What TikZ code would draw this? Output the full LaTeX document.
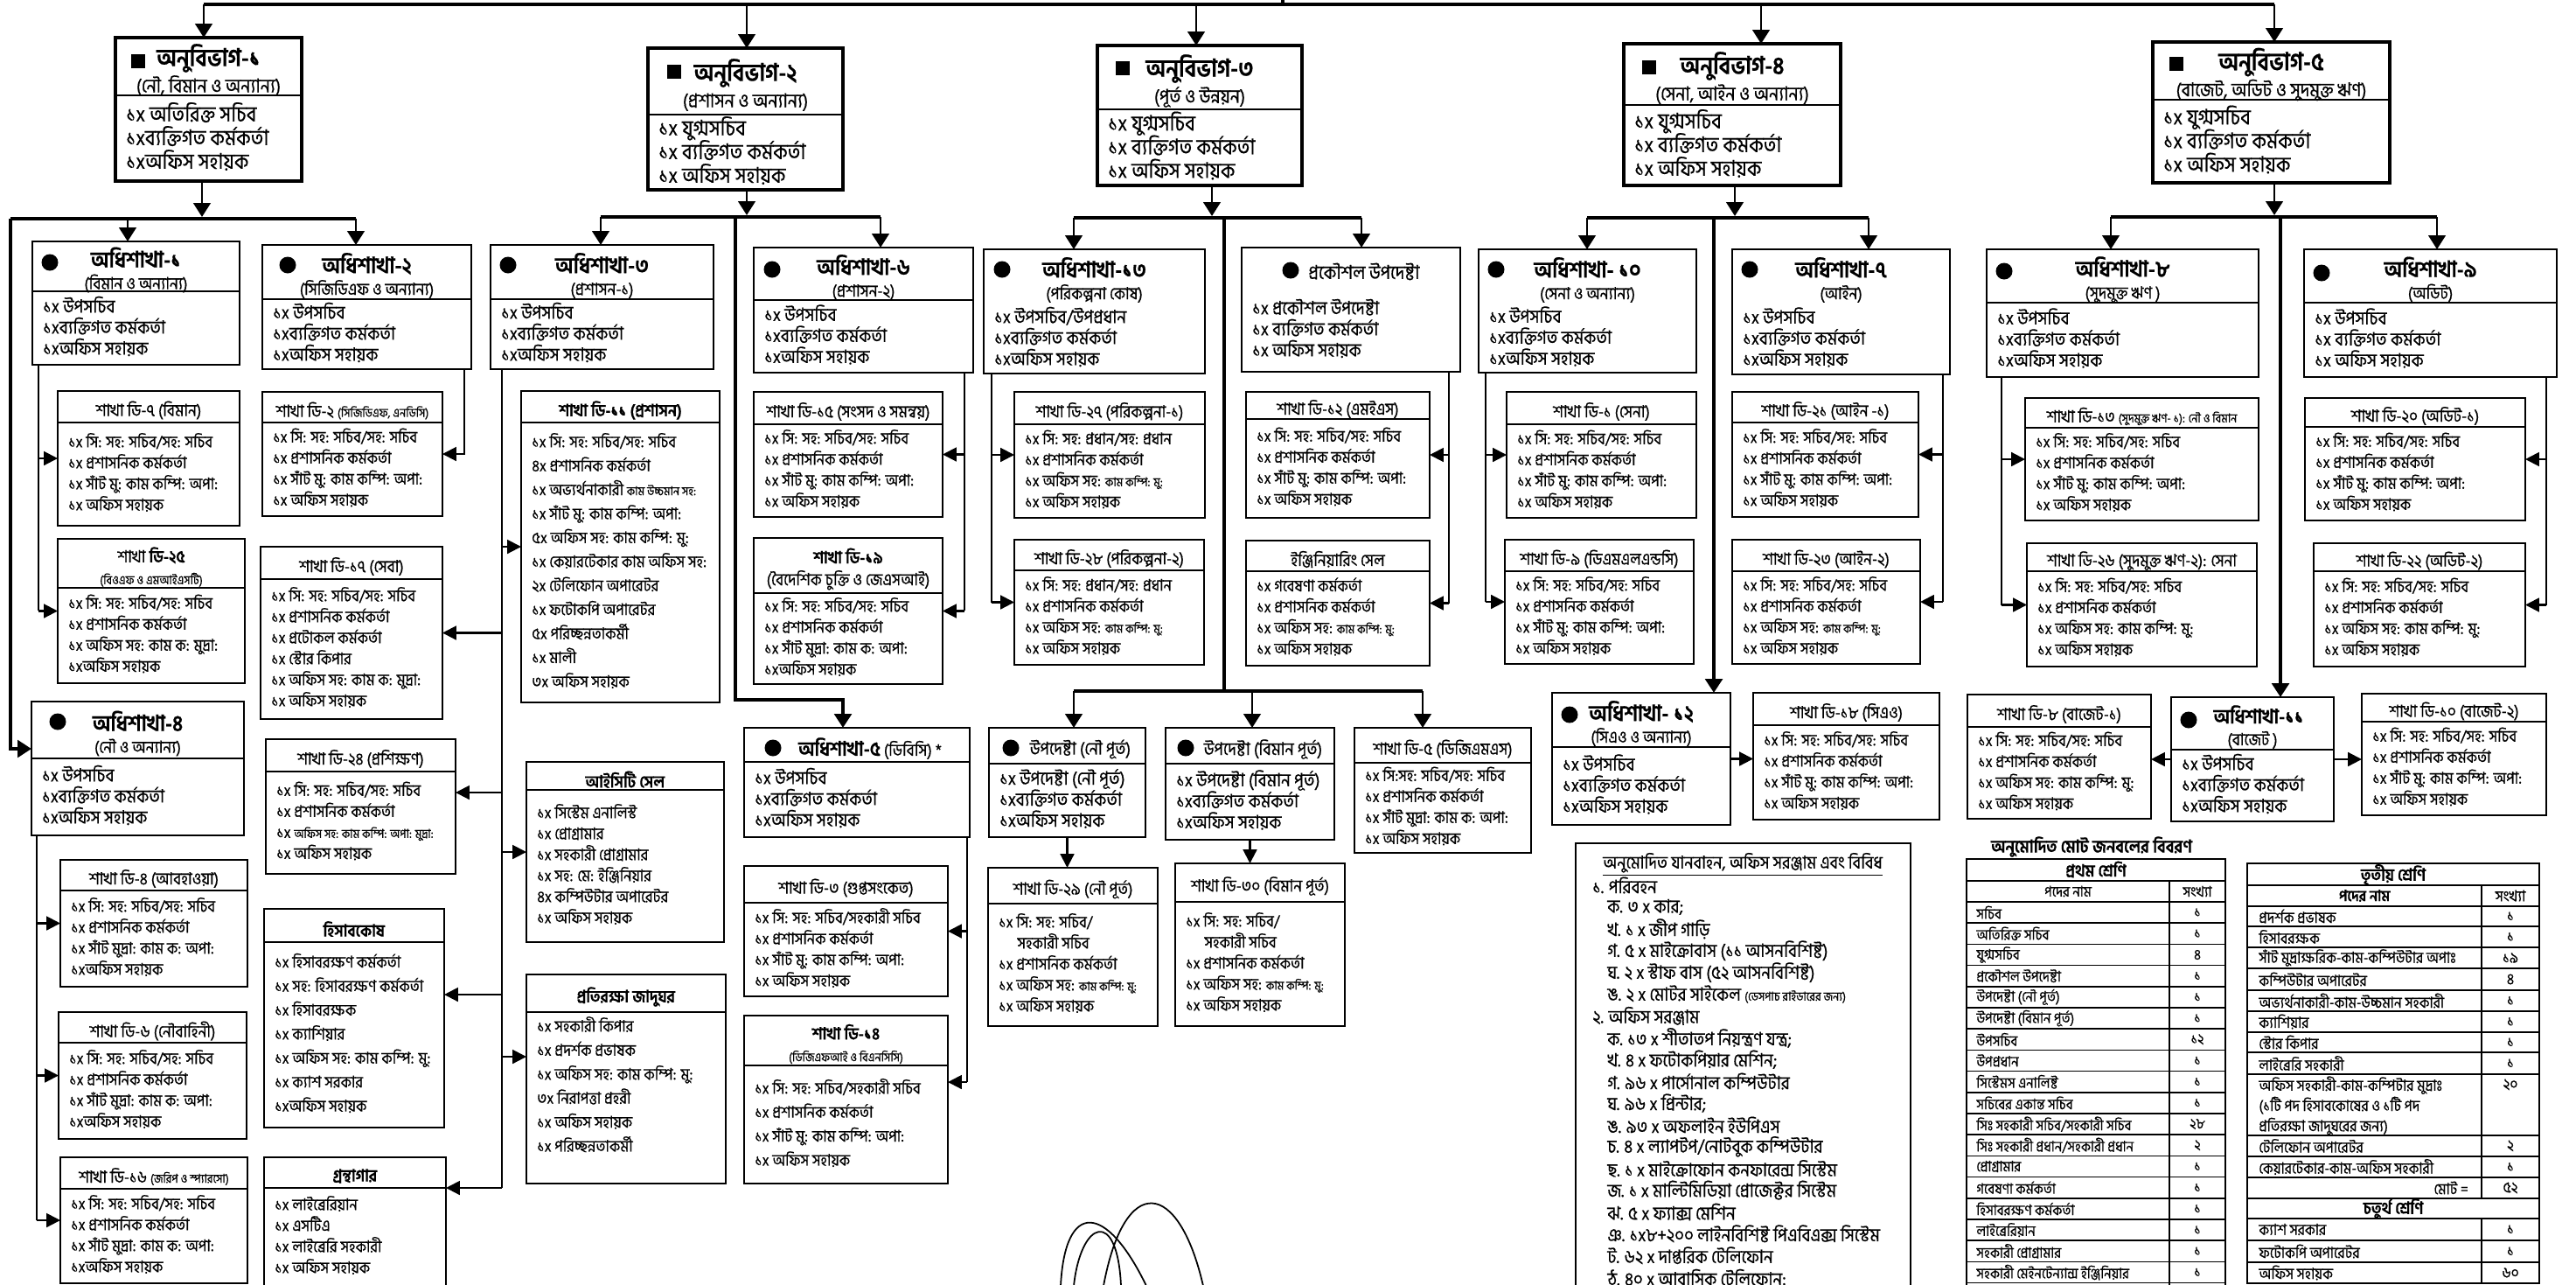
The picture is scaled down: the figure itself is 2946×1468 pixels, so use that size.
\documentclass[tikz,border=0pt]{standalone}
\usepackage{fontspec}
\setmainfont[Script=Bengali, FakeStretch=0.9, FakeBold=0.5]{Hind Siliguri}
\usetikzlibrary{arrows.meta}

\lineskiplimit=-100pt
\lineskip=0pt

\newcommand{\hd}[1]{{\fontsize{14.5}{14.2}\selectfont\bfseries #1}}
\newcommand{\hdd}[1]{{\fontsize{16}{17}\selectfont\bfseries #1}}
\newcommand{\sm}{\fontsize{8}{9}\selectfont}
\newcommand{\bshift}{\hspace*{17pt}}

\tikzstyle{box} = [rectangle, draw=black, line width=1.5pt, inner sep=0pt, outer sep=0pt]
\tikzstyle{divider} = [line width=1.5pt]
\tikzstyle{titletext} = [align=center, inner sep=0pt, font=\fontsize{11}{14.2}\selectfont]
\tikzstyle{bodytext} = [align=left, anchor=west, inner sep=0pt, font=\fontsize{10.5}{13.66}\selectfont]
\tikzstyle{loose} = [bodytext/.append style={font=\fontsize{10.5}{15.6}\selectfont}]
\tikzstyle{adh} = [bodytext/.append style={font=\fontsize{12}{13.66}\selectfont}]
\tikzstyle{anu} = [bodytext/.append style={font=\fontsize{14}{15.4}\selectfont}, titletext/.append style={font=\fontsize{12.5}{17}\selectfont}, box/.append style={line width=1.8pt}]
\tikzstyle{nodiv} = [divider/.style={draw=none}]
\tikzstyle{bar} = [line width=2.6pt]
\tikzstyle{branch} = [line width=1.1pt]
\tikzstyle{edge} = [line width=1.2pt, -{Triangle[length=9pt, width=9pt]}]
\tikzstyle{drop} = [line width=1.6pt, -{Triangle[length=9pt, width=11pt]}]
\tikzstyle{tline} = [line width=0.9pt]
\tikzstyle{cell} = [inner sep=0pt, font=\fontsize{9.5}{12}\selectfont]

% box with title part, divider and staff list
\newcommand{\orgbox}[9]{%
\begin{scope}[#7]
\node (#1) [box, minimum width={(#4-#2)*0.02cm}, minimum height={(#5-#3)*0.02cm}] at ({(#2+#4)/2},{(#3+#5)/2}) {};
\draw [divider] (#2,#6) -- (#4,#6);
\node (#1-title) [titletext] at ({(#2+#4)/2},{(#3+#6)/2+4}) {#8};
\node (#1-body) [bodytext] at ({#2+12},{(#6+#5)/2-2}) {#9};
\end{scope}}

\begin{document}
\begin{tikzpicture}[x=0.02cm, y=-0.02cm]
\useasboundingbox (0,0) rectangle (2946,1468);

% anubibhag
\orgbox{anu1}{132}{43}{345}{207}{109}{anu}{\hdd{অনুবিভাগ-১}\\(নৌ, বিমান ও অন্যান্য)}{১x অতিরিক্ত সচিব\\১xব্যক্তিগত কর্মকর্তা\\১xঅফিস সহায়ক}
\orgbox{anu2}{741}{55}{964}{217}{131}{anu}{\hdd{অনুবিভাগ-২}\\(প্রশাসন ও অন্যান্য)}{১x যুগ্মসচিব\\১x ব্যক্তিগত কর্মকর্তা\\১x অফিস সহায়ক}
\orgbox{anu3}{1255}{52}{1489}{212}{125}{anu}{\hdd{অনুবিভাগ-৩}\\(পূর্ত ও উন্নয়ন)}{১x যুগ্মসচিব\\১x ব্যক্তিগত কর্মকর্তা\\১x অফিস সহায়ক}
\orgbox{anu4}{1857}{50}{2105}{212}{120}{anu}{\hdd{অনুবিভাগ-৪}\\(সেনা, আইন ও অন্যান্য)}{১x যুগ্মসচিব\\১x ব্যক্তিগত কর্মকর্তা\\১x অফিস সহায়ক}
\orgbox{anu5}{2462}{48}{2733}{209}{114}{anu}{\hdd{অনুবিভাগ-৫}\\(বাজেট, অডিট ও সুদমুক্ত ঋণ)}{১x যুগ্মসচিব\\১x ব্যক্তিগত কর্মকর্তা\\১x অফিস সহায়ক}

% adhishakha
\orgbox{adh1}{37}{276}{274}{417}{333}{adh}{\hd{অধিশাখা-১}\\(বিমান ও অন্যান্য)}{১x উপসচিব\\১xব্যক্তিগত কর্মকর্তা\\১xঅফিস সহায়ক}
\orgbox{adh2}{300}{280}{539}{422}{342}{adh}{\hd{অধিশাখা-২}\\(সিজিডিএফ ও অন্যান্য)}{১x উপসচিব\\১xব্যক্তিগত কর্মকর্তা\\১xঅফিস সহায়ক}
\orgbox{adh3}{561}{280}{816}{422}{342}{adh}{\hd{অধিশাখা-৩}\\(প্রশাসন-১)}{১x উপসচিব\\১xব্যক্তিগত কর্মকর্তা\\১xঅফিস সহায়ক}
\orgbox{adh6}{862}{283}{1113}{426}{343}{adh}{\hd{অধিশাখা-৬}\\(প্রশাসন-২)}{১x উপসচিব\\১xব্যক্তিগত কর্মকর্তা\\১xঅফিস সহায়ক}
\orgbox{adh13}{1125}{285}{1378}{427}{347}{adh, nodiv}{\hd{অধিশাখা-১৩}\\(পরিকল্পনা কোষ)}{১x উপসচিব/উপপ্রধান\\১xব্যক্তিগত কর্মকর্তা\\১xঅফিস সহায়ক}
\orgbox{prok}{1420}{283}{1670}{425}{330}{adh, nodiv}{\bshift{\fontsize{12.5}{14}\selectfont প্রকৌশল উপদেষ্টা}}{১x প্রকৌশল উপদেষ্টা\\১x ব্যক্তিগত কর্মকর্তা\\১x অফিস সহায়ক}
\orgbox{adh10}{1691}{285}{1940}{426}{347}{adh, nodiv}{\hd{অধিশাখা- ১০}\\(সেনা ও অন্যান্য)}{১x উপসচিব\\১xব্যক্তিগত কর্মকর্তা\\১xঅফিস সহায়ক}
\orgbox{adh7}{1981}{285}{2230}{428}{347}{adh, nodiv}{\hd{অধিশাখা-৭}\\(আইন)}{১x উপসচিব\\১xব্যক্তিগত কর্মকর্তা\\১xঅফিস সহায়ক}
\orgbox{adh8}{2272}{285}{2583}{431}{346}{adh}{\hd{অধিশাখা-৮}\\(সুদমুক্ত ঋণ )}{১x উপসচিব\\১xব্যক্তিগত কর্মকর্তা\\১xঅফিস সহায়ক}
\orgbox{adh9}{2635}{285}{2924}{431}{346}{adh}{\hd{অধিশাখা-৯}\\(অডিট)}{১x উপসচিব\\১x ব্যক্তিগত কর্মকর্তা\\১x অফিস সহায়ক}
\orgbox{adh4}{36}{802}{279}{955}{867}{adh}{\hd{অধিশাখা-৪}\\(নৌ ও অন্যান্য)}{১x উপসচিব\\১xব্যক্তিগত কর্মকর্তা\\১xঅফিস সহায়ক}
\orgbox{adh5}{851}{832}{1109}{957}{871}{adh}{\bshift{\fontsize{13}{14}\selectfont\bfseries অধিশাখা-৫} {\fontsize{11}{14}\selectfont (ডিবিসি) *}}{১x উপসচিব\\১xব্যক্তিগত কর্মকর্তা\\১xঅফিস সহায়ক}
\orgbox{upnou}{1131}{832}{1310}{957}{873}{adh}{\bshift{\fontsize{11.5}{14}\selectfont উপদেষ্টা (নৌ পূর্ত)}}{১x উপদেষ্টা (নৌ পূর্ত)\\১xব্যক্তিগত কর্মকর্তা\\১xঅফিস সহায়ক}
\orgbox{upbim}{1333}{832}{1526}{960}{873}{adh}{\bshift{\fontsize{11.5}{14}\selectfont উপদেষ্টা (বিমান পূর্ত)}}{১x উপদেষ্টা (বিমান পূর্ত)\\১xব্যক্তিগত কর্মকর্তা\\১xঅফিস সহায়ক}
\orgbox{adh12}{1775}{792}{1979}{943}{854}{adh}{\hd{অধিশাখা- ১২}\\(সিএও ও অন্যান্য)}{১x উপসচিব\\১xব্যক্তিগত কর্মকর্তা\\১xঅফিস সহায়ক}
\orgbox{adh11}{2483}{797}{2669}{939}{857}{adh}{\hspace*{8pt}{\fontsize{13}{14.2}\selectfont\bfseries অধিশাখা-১১}\\(বাজেট )}{১x উপসচিব\\১xব্যক্তিগত কর্মকর্তা\\১xঅফিস সহায়ক}

% shakha, column 1
\orgbox{d7}{66}{447}{274}{601}{483}{}{শাখা ডি-৭ (বিমান)}{১x সি: সহ: সচিব/সহ: সচিব\\১x প্রশাসনিক কর্মকর্তা\\১x সাঁট মু: কাম কম্পি: অপা:\\১x অফিস সহায়ক}
\orgbox{d25}{66}{616}{280}{781}{672}{}{শাখা \textbf{ডি-২৫}\\{\sm (বিওএফ ও এমআইএসটি)}}{১x সি: সহ: সচিব/সহ: সচিব\\১x প্রশাসনিক কর্মকর্তা\\১x অফিস সহ: কাম ক: মুদ্রা:\\১xঅফিস সহায়ক}
\orgbox{d4}{69}{983}{283}{1128}{1018}{}{শাখা ডি-৪ (আবহাওয়া)}{১x সি: সহ: সচিব/সহ: সচিব\\১x প্রশাসনিক কর্মকর্তা\\১x সাঁট মুদ্রা: কাম ক: অপা:\\১xঅফিস সহায়ক}
\orgbox{d6}{67}{1157}{282}{1302}{1192}{}{শাখা ডি-৬ (নৌবাহিনী)}{১x সি: সহ: সচিব/সহ: সচিব\\১x প্রশাসনিক কর্মকর্তা\\১x সাঁট মুদ্রা: কাম ক: অপা:\\১xঅফিস সহায়ক}
\orgbox{d16}{69}{1323}{283}{1467}{1359}{}{শাখা ডি-১৬ {\sm (জরিপ ও স্প্যারসো)}}{১x সি: সহ: সচিব/সহ: সচিব\\১x প্রশাসনিক কর্মকর্তা\\১x সাঁট মুদ্রা: কাম ক: অপা:\\১xঅফিস সহায়ক}

% shakha, column 2
\orgbox{d2}{300}{448}{506}{590}{483}{}{শাখা ডি-২ {\sm (সিজিডিএফ, এনডিসি)}}{১x সি: সহ: সচিব/সহ: সচিব\\১x প্রশাসনিক কর্মকর্তা\\১x সাঁট মু: কাম কম্পি: অপা:\\১x অফিস সহায়ক}
\orgbox{d17}{298}{625}{506}{822}{662}{}{শাখা ডি-১৭ (সেবা)}{১x সি: সহ: সচিব/সহ: সচিব\\১x প্রশাসনিক কর্মকর্তা\\১x প্রটোকল কর্মকর্তা\\১x স্টোর কিপার\\১x অফিস সহ: কাম ক: মুদ্রা:\\১x অফিস সহায়ক}
\orgbox{d24}{304}{845}{521}{999}{882}{}{শাখা ডি-২৪ (প্রশিক্ষণ)}{১x সি: সহ: সচিব/সহ: সচিব\\১x প্রশাসনিক কর্মকর্তা\\১x {\sm অফিস সহ: কাম কম্পি: অপা: মুদ্রা:}\\১x অফিস সহায়ক}
\orgbox{hisab}{302}{1039}{508}{1289}{1077}{loose}{\textbf{হিসাবকোষ}}{১x হিসাবরক্ষণ কর্মকর্তা\\১x সহ: হিসাবরক্ষণ কর্মকর্তা\\১x হিসাবরক্ষক\\১x ক্যাশিয়ার\\১x অফিস সহ: কাম কম্পি: মু:\\১x ক্যাশ সরকার\\১xঅফিস সহায়ক}
\orgbox{grantha}{302}{1323}{510}{1470}{1358}{}{\textbf{গ্রন্থাগার}}{১x লাইব্রেরিয়ান\\১x এসটিএ\\১x লাইব্রেরি সহকারী\\১x অফিস সহায়ক}

% shakha, column 3
\orgbox{d11}{596}{447}{823}{803}{483}{loose}{\textbf{শাখা ডি-১১ (প্রশাসন)}}{১x সি: সহ: সচিব/সহ: সচিব\\৪x প্রশাসনিক কর্মকর্তা\\১x অভ্যর্থনাকারী {\sm কাম উচ্চমান সহ:}\\১x সাঁট মু: কাম কম্পি: অপা:\\৫x অফিস সহ: কাম কম্পি: মু:\\১x কেয়ারটেকার কাম অফিস সহ:\\২x টেলিফোন অপারেটর\\১x ফটোকপি অপারেটর\\৫x পরিচ্ছন্নতাকর্মী\\১x মালী\\৩x অফিস সহায়ক}
\orgbox{ict}{602}{871}{828}{1077}{903}{}{\textbf{আইসিটি সেল}}{১x সিস্টেম এনালিস্ট\\১x প্রোগ্রামার\\১x সহকারী প্রোগ্রামার\\১x সহ: মে: ইঞ্জিনিয়ার\\৪x কম্পিউটার অপারেটর\\১x অফিস সহায়ক}
\orgbox{jadu}{602}{1114}{830}{1353}{1157}{loose}{\textbf{প্রতিরক্ষা জাদুঘর}}{১x সহকারী কিপার\\১x প্রদর্শক প্রভাষক\\১x অফিস সহ: কাম কম্পি: মু:\\৩x নিরাপত্তা প্রহরী\\১x অফিস সহায়ক\\১x পরিচ্ছন্নতাকর্মী\\\mbox{}}

% shakha, column 4
\orgbox{d15}{862}{448}{1078}{591}{485}{}{শাখা ডি-১৫ (সংসদ ও সমন্বয়)}{১x সি: সহ: সচিব/সহ: সচিব\\১x প্রশাসনিক কর্মকর্তা\\১x সাঁট মু: কাম কম্পি: অপা:\\১x অফিস সহায়ক}
\orgbox{d19}{862}{615}{1078}{782}{678}{}{\textbf{শাখা ডি-১৯}\\(বৈদেশিক চুক্তি ও জেএসআই)}{১x সি: সহ: সচিব/সহ: সচিব\\১x প্রশাসনিক কর্মকর্তা\\১x সাঁট মুদ্রা: কাম ক: অপা:\\১xঅফিস সহায়ক}
\orgbox{d3}{851}{990}{1084}{1139}{1032}{}{শাখা ডি-৩ (গুপ্তসংকেত)}{১x সি: সহ: সচিব/সহকারী সচিব\\১x প্রশাসনিক কর্মকর্তা\\১x সাঁট মু: কাম কম্পি: অপা:\\১x অফিস সহায়ক}
\orgbox{d14}{851}{1161}{1084}{1353}{1218}{loose}{\textbf{শাখা ডি-১৪}\\{\sm (ডিজিএফআই ও বিএনসিসি)}}{১x সি: সহ: সচিব/সহকারী সচিব\\১x প্রশাসনিক কর্মকর্তা\\১x সাঁট মু: কাম কম্পি: অপা:\\১x অফিস সহায়ক}

% shakha, column 5
\orgbox{d27}{1160}{448}{1378}{592}{485}{}{শাখা ডি-২৭ (পরিকল্পনা-১)}{১x সি: সহ: প্রধান/সহ: প্রধান\\১x প্রশাসনিক কর্মকর্তা\\১x অফিস সহ: {\sm কাম কম্পি: মু:}\\১x অফিস সহায়ক}
\orgbox{d28}{1160}{617}{1377}{760}{652}{}{শাখা ডি-২৮ (পরিকল্পনা-২)}{১x সি: সহ: প্রধান/সহ: প্রধান\\১x প্রশাসনিক কর্মকর্তা\\১x অফিস সহ: {\sm কাম কম্পি: মু:}\\১x অফিস সহায়ক}
\orgbox{d29}{1130}{992}{1324}{1173}{1033}{}{শাখা ডি-২৯ (নৌ পূর্ত)}{১x সি: সহ: সচিব/\\\hspace*{12pt}সহকারী সচিব\\১x প্রশাসনিক কর্মকর্তা\\১x অফিস সহ: {\sm কাম কম্পি: মু:}\\১x অফিস সহায়ক}
\orgbox{d30}{1344}{987}{1538}{1173}{1031}{}{শাখা ডি-৩০ (বিমান পূর্ত)}{১x সি: সহ: সচিব/\\\hspace*{12pt}সহকারী সচিব\\১x প্রশাসনিক কর্মকর্তা\\১x অফিস সহ: {\sm কাম কম্পি: মু:}\\১x অফিস সহায়ক}

% shakha, column 6
\orgbox{d12}{1425}{448}{1635}{592}{479}{}{শাখা ডি-১২ (এমইএস)}{১x সি: সহ: সচিব/সহ: সচিব\\১x প্রশাসনিক কর্মকর্তা\\১x সাঁট মু: কাম কম্পি: অপা:\\১x অফিস সহায়ক}
\orgbox{engcell}{1425}{618}{1635}{761}{653}{}{ইঞ্জিনিয়ারিং সেল}{১x গবেষণা কর্মকর্তা\\১x প্রশাসনিক কর্মকর্তা\\১x অফিস সহ: {\sm কাম কম্পি: মু:}\\১x অফিস সহায়ক}
\orgbox{d5}{1549}{832}{1751}{975}{872}{}{শাখা ডি-৫ (ডিজিএমএস)}{১x সি:সহ: সচিব/সহ: সচিব\\১x প্রশাসনিক কর্মকর্তা\\১x সাঁট মুদ্রা: কাম ক: অপা:\\১x অফিস সহায়ক}

% shakha, column 7 and 8
\orgbox{d1}{1723}{448}{1940}{592}{485}{}{শাখা ডি-১ (সেনা)}{১x সি: সহ: সচিব/সহ: সচিব\\১x প্রশাসনিক কর্মকর্তা\\১x সাঁট মু: কাম কম্পি: অপা:\\১x অফিস সহায়ক}
\orgbox{d9}{1721}{617}{1937}{759}{653}{}{শাখা ডি-৯ (ডিএমএলএন্ডসি)}{১x সি: সহ: সচিব/সহ: সচিব\\১x প্রশাসনিক কর্মকর্তা\\১x সাঁট মু: কাম কম্পি: অপা:\\১x অফিস সহায়ক}
\orgbox{d21}{1981}{448}{2194}{591}{483}{}{শাখা ডি-২১ (আইন -১)}{১x সি: সহ: সচিব/সহ: সচিব\\১x প্রশাসনিক কর্মকর্তা\\১x সাঁট মু: কাম কম্পি: অপা:\\১x অফিস সহায়ক}
\orgbox{d23}{1981}{617}{2196}{759}{653}{}{শাখা ডি-২৩ (আইন-২)}{১x সি: সহ: সচিব/সহ: সচিব\\১x প্রশাসনিক কর্মকর্তা\\১x অফিস সহ: {\sm কাম কম্পি: মু:}\\১x অফিস সহায়ক}
\orgbox{d18}{2005}{792}{2218}{937}{829}{}{শাখা ডি-১৮ (সিএও)}{১x সি: সহ: সচিব/সহ: সচিব\\১x প্রশাসনিক কর্মকর্তা\\১x সাঁট মু: কাম কম্পি: অপা:\\১x অফিস সহায়ক}

% shakha, column 9 and 10
\orgbox{d13}{2316}{455}{2583}{595}{489}{}{শাখা ডি-১৩ {\sm (সুদমুক্ত ঋণ- ১): নৌ ও বিমান}}{১x সি: সহ: সচিব/সহ: সচিব\\১x প্রশাসনিক কর্মকর্তা\\১x সাঁট মু: কাম কম্পি: অপা:\\১x অফিস সহায়ক}
\orgbox{d26}{2318}{621}{2581}{762}{653}{}{শাখা ডি-২৬ (সুদমুক্ত ঋণ-২): সেনা}{১x সি: সহ: সচিব/সহ: সচিব\\১x প্রশাসনিক কর্মকর্তা\\১x অফিস সহ: কাম কম্পি: মু:\\১x অফিস সহায়ক}
\orgbox{d20}{2636}{455}{2888}{595}{488}{}{শাখা ডি-২০ (অডিট-১)}{১x সি: সহ: সচিব/সহ: সচিব\\১x প্রশাসনিক কর্মকর্তা\\১x সাঁট মু: কাম কম্পি: অপা:\\১x অফিস সহায়ক}
\orgbox{d22}{2646}{621}{2888}{762}{653}{}{শাখা ডি-২২ (অডিট-২)}{১x সি: সহ: সচিব/সহ: সচিব\\১x প্রশাসনিক কর্মকর্তা\\১x অফিস সহ: কাম কম্পি: মু:\\১x অফিস সহায়ক}
\orgbox{d8}{2250}{794}{2460}{936}{831}{}{শাখা ডি-৮ (বাজেট-১)}{১x সি: সহ: সচিব/সহ: সচিব\\১x প্রশাসনিক কর্মকর্তা\\১x অফিস সহ: কাম কম্পি: মু:\\১x অফিস সহায়ক}
\orgbox{d10}{2701}{793}{2912}{932}{825}{}{শাখা ডি-১০ (বাজেট-২)}{১x সি: সহ: সচিব/সহ: সচিব\\১x প্রশাসনিক কর্মকর্তা\\১x সাঁট মু: কাম কম্পি: অপা:\\১x অফিস সহায়ক}

% bullets
\foreach \x/\y in {158/70, 771/82, 1284/78, 1886/77, 2489/73}
  \fill (\x-8,\y-8) rectangle (\x+8,\y+8);
\foreach \x/\y in {57/300, 329/303, 581/303, 883/308, 1146/308, 1476/309, 1711/308, 2001/308, 2292/310, 2655/312, 66/825, 884/855, 1156/855, 1356/855, 1795/817, 2503/823}
  \fill (\x,\y) circle (9.5);

% top level
\coordinate (root) at (1467,0);
\coordinate (topL) at (233,5);
\coordinate (topR) at (2601,5);
\draw [bar] (root) -- (root |- topL);
\draw [bar] (topL) -- (topR);
\foreach \x/\n in {233/anu1, 854/anu2, 1368/anu3, 2014/anu4, 2601/anu5}
  {\coordinate (t-\n) at (\x,5); \draw [drop] (t-\n) -- (t-\n |- \n.north);}

% anubibhag-1
\coordinate (b1L) at (12,250);
\coordinate (b1R) at (407,250);
\coordinate (b1m) at (231,248);
\coordinate (a4in) at (12,856);
\draw [drop] (b1m |- anu1.south) -- (b1m);
\draw [bar] (b1L) -- (b1R);
\foreach \x/\n in {146/adh1, 407/adh2}
  {\coordinate (d-\n) at (\x,250); \draw [drop] (d-\n) -- (d-\n |- \n.north);}
\draw [bar, -{Triangle[length=9pt, width=11pt]}] (b1L) -- (a4in) -- (a4in -| adh4.west);

% anubibhag-2
\coordinate (b2L) at (687,248);
\coordinate (b2R) at (1007,248);
\coordinate (b2m) at (854,246);
\coordinate (b2s) at (841,248);
\coordinate (a5in) at (964,800);
\draw [drop] (b2m |- anu2.south) -- (b2m);
\draw [bar] (b2L) -- (b2R);
\foreach \x/\n in {687/adh3, 1007/adh6}
  {\coordinate (d-\n) at (\x,248); \draw [drop] (d-\n) -- (d-\n |- \n.north);}
\draw [bar, -{Triangle[length=9pt, width=11pt]}] (b2s) |- (a5in) -- (a5in |- adh5.north);

% anubibhag-3
\coordinate (b3L) at (1228,249);
\coordinate (b3R) at (1557,249);
\coordinate (b3m) at (1386,247);
\coordinate (b3s) at (1400,249);
\coordinate (b3u) at (1400,790);
\coordinate (u3L) at (1228,790);
\coordinate (u3R) at (1627,790);
\draw [drop] (b3m |- anu3.south) -- (b3m);
\draw [bar] (b3L) -- (b3R);
\foreach \x/\n in {1228/adh13, 1557/prok}
  {\coordinate (d-\n) at (\x,249); \draw [drop] (d-\n) -- (d-\n |- \n.north);}
\draw [bar] (b3s) -- (b3u);
\draw [bar] (u3L) -- (u3R);
\foreach \x/\n in {1228/upnou, 1432/upbim, 1627/d5}
  {\coordinate (d-\n) at (\x,790); \draw [drop] (d-\n) -- (d-\n |- \n.north);}

% anubibhag-4
\coordinate (b4L) at (1815,249);
\coordinate (b4R) at (2137,249);
\coordinate (b4m) at (1984,247);
\coordinate (b4s) at (1960,249);
\draw [drop] (b4m |- anu4.south) -- (b4m);
\draw [bar] (b4L) -- (b4R);
\foreach \x/\n in {1815/adh10, 2137/adh7}
  {\coordinate (d-\n) at (\x,249); \draw [drop] (d-\n) -- (d-\n |- \n.north);}
\draw [bar, -{Triangle[length=9pt, width=11pt]}] (b4s) -- (b4s |- adh12.north);

% anubibhag-5
\coordinate (b5L) at (2414,248);
\coordinate (b5R) at (2787,248);
\coordinate (b5m) at (2601,246);
\coordinate (b5s) at (2608,248);
\draw [drop] (b5m |- anu5.south) -- (b5m);
\draw [bar] (b5L) -- (b5R);
\foreach \x/\n in {2414/adh8, 2787/adh9}
  {\coordinate (d-\n) at (\x,248); \draw [drop] (d-\n) -- (d-\n |- \n.north);}
\draw [bar, -{Triangle[length=9pt, width=11pt]}] (b5s) -- (b5s |- adh11.north);

% adhishakha to shakha
\coordinate (v1) at (44,698);
\draw [branch] (v1 |- adh1.south) -- (v1);
\foreach \n in {d7, d25} \draw [edge] (v1 |- \n.west) -- (\n.west);
\coordinate (v4) at (42,1395);
\draw [branch] (v4 |- adh4.south) -- (v4);
\foreach \n in {d4, d6, d16} \draw [edge] (v4 |- \n.west) -- (\n.west);
\coordinate (v2) at (531,519);
\draw [edge] (v2 |- adh2.south) |- (d2.east);
\coordinate (v3) at (574,1358);
\coordinate (v3a) at (574,906);
\coordinate (v3b) at (574,1137);
\coordinate (v3c) at (574,1208);
\draw [branch] (v3 |- adh3.south) -- (v3);
\draw [edge] (v3 |- d17.east) -- (d17.east);
\draw [edge] (v3a) -- (v3a -| d24.east);
\draw [edge] (v3b) -- (v3b -| hisab.east);
\draw [edge] (v3) -- (v3 -| grantha.east);
\draw [edge] (v3 |- d11.west) -- (d11.west);
\draw [edge] (v3 |- ict.west) -- (ict.west);
\draw [edge] (v3c) -- (v3c -| jadu.west);
\coordinate (v6) at (1103,698);
\draw [branch] (v6 |- adh6.south) -- (v6);
\foreach \n in {d15, d19} \draw [edge] (v6 |- \n.east) -- (\n.east);
\coordinate (v5) at (1106,1237);
\draw [branch] (v5 |- adh5.south) -- (v5);
\draw [edge] (v5 |- d3.east) -- (d3.east);
\draw [edge] (v5) -- (v5 -| d14.east);
\coordinate (v13) at (1134,689);
\draw [branch] (v13 |- adh13.south) -- (v13);
\foreach \n in {d27, d28} \draw [edge] (v13 |- \n.west) -- (\n.west);
\coordinate (vp) at (1657,690);
\draw [branch] (vp |- prok.south) -- (vp);
\foreach \n in {d12, engcell} \draw [edge] (vp |- \n.east) -- (\n.east);
\draw [edge] (upnou.south) -- (upnou.south |- d29.north);
\draw [edge] (upbim.south) -- (upbim.south |- d30.north);
\coordinate (v10) at (1699,688);
\draw [branch] (v10 |- adh10.south) -- (v10);
\foreach \n in {d1, d9} \draw [edge] (v10 |- \n.west) -- (\n.west);
\coordinate (v7) at (2222,688);
\draw [branch] (v7 |- adh7.south) -- (v7);
\foreach \n in {d21, d23} \draw [edge] (v7 |- \n.east) -- (\n.east);
\draw [edge] (adh12.east) -- (adh12.east -| d18.west);
\coordinate (v8) at (2289,692);
\draw [branch] (v8 |- adh8.south) -- (v8);
\foreach \n in {d13, d26} \draw [edge] (v8 |- \n.west) -- (\n.west);
\coordinate (v9) at (2912,692);
\draw [branch] (v9 |- adh9.south) -- (v9);
\foreach \n in {d20, d22} \draw [edge] (v9 |- \n.east) -- (\n.east);
\draw [edge] (adh11.west) -- (adh11.west -| d8.east);
\draw [edge] (adh11.east) -- (adh11.east -| d10.west);

% vehicles and equipment
\node (yan) [box, anchor=north west, minimum width={383*0.02cm}, minimum height={520*0.02cm}] at (1802,964) {};
\node (yan-title) [cell, font=\fontsize{11.5}{12}\selectfont] at (1993,988) {\underline{অনুমোদিত যানবাহন, অফিস সরঞ্জাম এবং বিবিধ}};
\foreach \ind/\txt [count=\k] in {0/{১. পরিবহন}, 1/{ক. ৩ x কার;}, 1/{খ. ১ x জীপ গাড়ি}, 1/{গ. ৫ x মাইক্রোবাস (১১ আসনবিশিষ্ট)}, 1/{ঘ. ২ x স্টাফ বাস (৫২ আসনবিশিষ্ট)}, 1/{ঙ. ২ x মোটর সাইকেল {\sm (ডেসপাচ রাইডারের জন্য)}}, 0/{২. অফিস সরঞ্জাম}, 1/{ক. ১৩ x শীতাতপ নিয়ন্ত্রণ যন্ত্র;}, 1/{খ. ৪ x ফটোকপিয়ার মেশিন;}, 1/{গ. ৯৬ x পার্সোনাল কম্পিউটার}, 1/{ঘ. ৯৬ x প্রিন্টার;}, 1/{ঙ. ৯৩ x অফলাইন ইউপিএস}, 1/{চ. ৪ x ল্যাপটপ/নোটবুক কম্পিউটার}, 1/{ছ. ১ x মাইক্রোফোন কনফারেন্স সিস্টেম}, 1/{জ. ১ x মাল্টিমিডিয়া প্রোজেক্টর সিস্টেম}, 1/{ঝ. ৫ x ফ্যাক্স মেশিন}, 1/{ঞ. ১x৮+২০০ লাইনবিশিষ্ট পিএবিএক্স সিস্টেম}, 1/{ট. ৬২ x দাপ্তরিক টেলিফোন}, 1/{ঠ. ৪০ x আবাসিক টেলিফোন:}}
  \node (yan-\k) [cell, anchor=west, font=\fontsize{12}{13}\selectfont] at ({1821+17*\ind},{1012+24.9*(\k-1)}) {\txt};

% staff tables
\node (jon-title) [cell, font=\fontsize{11.5}{12}\selectfont\bfseries] at (2392,968) {অনুমোদিত মোট জনবলের বিবরণ};
\draw [tline] (2249,982) rectangle (2545,1475);
\draw [tline] (2249,1007) -- (2545,1007);
\draw [tline] (2481,1007) -- (2481,1475);
\node (t1-title) [cell, font=\fontsize{11}{12}\selectfont\bfseries] at (2397,994) {প্রথম শ্রেণি};
\node (t1-head) [cell] at (2365,1019) {পদের নাম};
\node (t1-num) [cell] at (2513,1019) {সংখ্যা};
\draw [tline] (2249,1031) -- (2545,1031);
\foreach \pname/\pnum [count=\k] in {সচিব/১, অতিরিক্ত সচিব/১, যুগ্মসচিব/৪, প্রকৌশল উপদেষ্টা/১, উপদেষ্টা (নৌ পূর্ত)/১, উপদেষ্টা (বিমান পূর্ত)/১, উপসচিব/১২, উপপ্রধান/১, সিস্টেমস এনালিষ্ট/১, সচিবের একান্ত সচিব/১, {সিঃ সহকারী সচিব/সহকারী সচিব}/২৮, {সিঃ সহকারী প্রধান/সহকারী প্রধান}/২, প্রোগ্রামার/১, গবেষণা কর্মকর্তা/১, হিসাবরক্ষণ কর্মকর্তা/১, লাইব্রেরিয়ান/১, সহকারী প্রোগ্রামার/১, সহকারী মেইনটেন্যান্স ইঞ্জিনিয়ার/১}
  {\node (t1-\k) [cell, anchor=west] at (2260,{1031+24.2*\k-12.1}) {\pname};
   \node (t1n-\k) [cell] at (2513,{1031+24.2*\k-12.1}) {\pnum};
   \draw [tline] (2249,{1031+24.2*\k}) -- (2545,{1031+24.2*\k});}

\draw [tline] (2570,987) rectangle (2904,1467);
\foreach \yy in {1012,1036,1059,1083,1107,1132,1156,1180,1203,1228,1298,1322,1346,1370,1393,1418,1443}
  \draw [tline] (2570,\yy) -- (2904,\yy);
\draw [tline] (2838,1012) -- (2838,1370);
\draw [tline] (2838,1393) -- (2838,1467);
\node (t3-title) [cell, font=\fontsize{11}{12}\selectfont\bfseries] at (2737,1000) {তৃতীয় শ্রেণি};
\node (t3-head) [cell, font=\fontsize{10}{12}\selectfont\bfseries] at (2704,1024) {পদের নাম};
\node (t3-num) [cell, font=\fontsize{10}{12}\selectfont] at (2871,1024) {সংখ্যা};
\foreach \yy/\pname/\pnum [count=\k] in {1047.5/প্রদর্শক প্রভাষক/১, 1071/হিসাবরক্ষক/১, 1095/সাঁট মুদ্রাক্ষরিক-কাম-কম্পিউটার অপাঃ/১৯, 1119.5/কম্পিউটার অপারেটর/৪, 1144/অভ্যর্থনাকারী-কাম-উচ্চমান সহকারী/১, 1168/ক্যাশিয়ার/১, 1191.5/স্টোর কিপার/১, 1215.5/লাইব্রেরি সহকারী/১, 1310/টেলিফোন অপারেটর/২, 1334/কেয়ারটেকার-কাম-অফিস সহকারী/১, 1405.5/ক্যাশ সরকার/১, 1430.5/ফটোকপি অপারেটর/১, 1455/অফিস সহায়ক/৬০}
  {\node (t3-\k) [cell, anchor=west, font=\fontsize{10}{12}\selectfont] at (2583,\yy) {\pname};
   \node (t3n-\k) [cell, font=\fontsize{10}{12}\selectfont] at (2871,\yy) {\pnum};}
\node (t3-multi) [cell, anchor=north west, align=left, font=\fontsize{10}{13.2}\selectfont] at (2583,1230) {অফিস সহকারী-কাম-কম্পিটার মুদ্রাঃ\\(১টি পদ হিসাবকোষের ও ১টি পদ\\প্রতিরক্ষা জাদুঘরের জন্য)};
\node (t3n-multi) [cell, font=\fontsize{10}{12}\selectfont] at (2871,1240) {২০};
\node (t3-total) [cell, anchor=east, font=\fontsize{10}{12}\selectfont] at (2823,1358) {মোট =};
\node (t3n-total) [cell, font=\fontsize{10}{12}\selectfont] at (2871,1358) {৫২};
\node (t4-title) [cell, font=\fontsize{11}{12}\selectfont\bfseries] at (2737,1381.5) {চতুর্থ শ্রেণি};

% signature
\draw [line width=1pt] (1213,1470) .. controls (1218,1372) and (1265,1375) .. (1311,1470);
\draw [line width=1pt] (1228,1470) .. controls (1236,1395) and (1278,1380) .. (1282,1470);
\draw [line width=1pt] (1262,1470) .. controls (1286,1340) and (1348,1348) .. (1376,1470);

\end{tikzpicture}
\end{document}
